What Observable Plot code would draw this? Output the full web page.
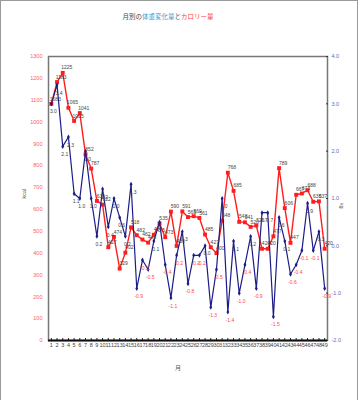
<!DOCTYPE html>
<html><head><meta charset="utf-8">
<script src="https://cdn.jsdelivr.net/npm/d3@7"></script>
<script src="https://cdn.jsdelivr.net/npm/@observablehq/plot@0.6"></script>
<style>
body{margin:0;background:#fff;}
#wrap{position:relative;width:359px;height:400px;overflow:hidden;background:#fff;}
#title{position:absolute;top:12px;left:0;width:336px;text-align:center;font-family:"Noto Sans CJK JP";font-size:6.5px;color:#444;line-height:8px;}
#border{position:absolute;left:0;top:0;width:356px;height:402px;border:1px solid #9a9a9a;pointer-events:none;}
#chart{position:absolute;left:0;top:0;}
</style></head>
<body>
<div id="wrap">
<div id="chart"></div>
<div id="title">月別の<span style="color:#3d9bd6">体重変化量</span>と<span style="color:#ff3c3c">カロリー量</span></div>
<div id="border"></div>
</div>
<script>
const months = [1,2,3,4,5,6,7,8,9,10,11,12,13,14,15,16,17,18,19,20,21,22,23,24,25,26,27,28,29,30,31,32,33,34,35,36,37,38,39,40,41,42,43,44,45,46,47,48,49];
const kcal = [1083,1183,1225,1065,1005,1041,852,787,639,622,427,474,329,402,518,482,462,448,484,535,473,590,433,591,565,569,561,485,427,400,548,768,685,543,541,520,526,420,420,477,789,606,447,667,673,688,635,637,420];
const kg = [3.0,3.4,2.1,2.3,1.1,1.0,2.0,1.0,0.2,1.2,0.4,1.0,0.6,0.2,1.3,-0.9,-0.3,-0.5,0.1,0.5,-0.4,-1.1,-0.2,0.3,-0.8,-0.2,-0.2,0.0,-1.3,-0.5,1.0,-1.4,0.1,-1.0,-0.4,0.2,-0.9,0.7,0.7,-1.5,0.6,0.1,-0.6,-0.4,-0.1,0.9,-0.1,0.3,-0.9];
const kcalTicks = [0,100,200,300,400,500,600,700,800,900,1000,1100,1200,1300];
const kgTicks = [-2,-1,0,1,2,3,4];

const KCAL_MAX = 1300, KG_MIN = -2, KG_MAX = 4;
const toY = v => (v - KG_MIN) / (KG_MAX - KG_MIN) * KCAL_MAX;
const fromY = y => y / KCAL_MAX * (KG_MAX - KG_MIN) + KG_MIN;
const fmt1 = v => (v < -1e-9 ? "-" : "") + Math.abs(v).toFixed(1);

const data = months.map((m, i) => ({m, kcal: kcal[i], kg: kg[i], ky: toY(kg[i])}));

const RED = "#ff1e1e", BLUE = "#1c1c86";

const chart = Plot.plot({
  width: 359, height: 400,
  marginTop: 56, marginBottom: 60, marginLeft: 48, marginRight: 32,
  style: {fontFamily: "Liberation Sans, Arial, sans-serif", fontSize: "5.5px", background: "transparent", color: "#444"},
  x: {type: "point", domain: months, padding: 0.5},
  y: {domain: [0, KCAL_MAX]},
  marks: [
    Plot.frame({stroke: "#777", strokeWidth: 1.5}),
    Plot.axisY(kcalTicks, {anchor: "left", tickSize: 0, tickPadding: 6, fill: "#ff5c5c", tickFormat: d => String(d), label: null}),
    Plot.axisY(kgTicks.map(toY), {anchor: "right", tickSize: -2, tickPadding: 6, fill: "#6464c8", stroke: "#333", tickFormat: d => fmt1(fromY(d)), label: null}),
    Plot.axisX(months, {anchor: "bottom", tickSize: -2, tickPadding: 5, fill: "#444", stroke: "#222", tickFormat: d => String(d), label: null}),
    Plot.ruleY([0], {stroke: "#111", strokeWidth: 2}),
    Plot.text(["kcal"], {frameAnchor: "left", dx: -24, rotate: -90, fill: "#555", fontSize: 5.5}),
    Plot.text(["kg"], {frameAnchor: "right", dx: 14, dy: 10, rotate: 90, fill: "#555", fontSize: 5.5}),
    Plot.text(["月"], {frameAnchor: "bottom", dx: -10, dy: 29, fill: "#555", fontSize: 6, fontFamily: "Noto Sans CJK JP"}),
    Plot.line(data, {x: "m", y: "kcal", stroke: RED, strokeWidth: 1.4}),
    Plot.dot(data, {x: "m", y: "kcal", symbol: "square", fill: RED, r: 2.2}),
    Plot.line(data, {x: "m", y: "ky", stroke: BLUE, strokeWidth: 1.2}),
    Plot.dot(data, {x: "m", y: "ky", symbol: "diamond", fill: BLUE, r: 1.5}),
    Plot.text(data, {x: "m", y: "kcal", text: d => String(d.kcal), dy: -5, dx: 4, fill: "#444", fontSize: 5}),
    Plot.text(data, {x: "m", y: "ky", text: d => fmt1(d.kg), dy: 8, dx: 2, fill: d => d.kg < 0 ? "#ff4646" : "#444", fontSize: 5})
  ]
});
document.getElementById("chart").appendChild(chart);
</script>
</body></html>
